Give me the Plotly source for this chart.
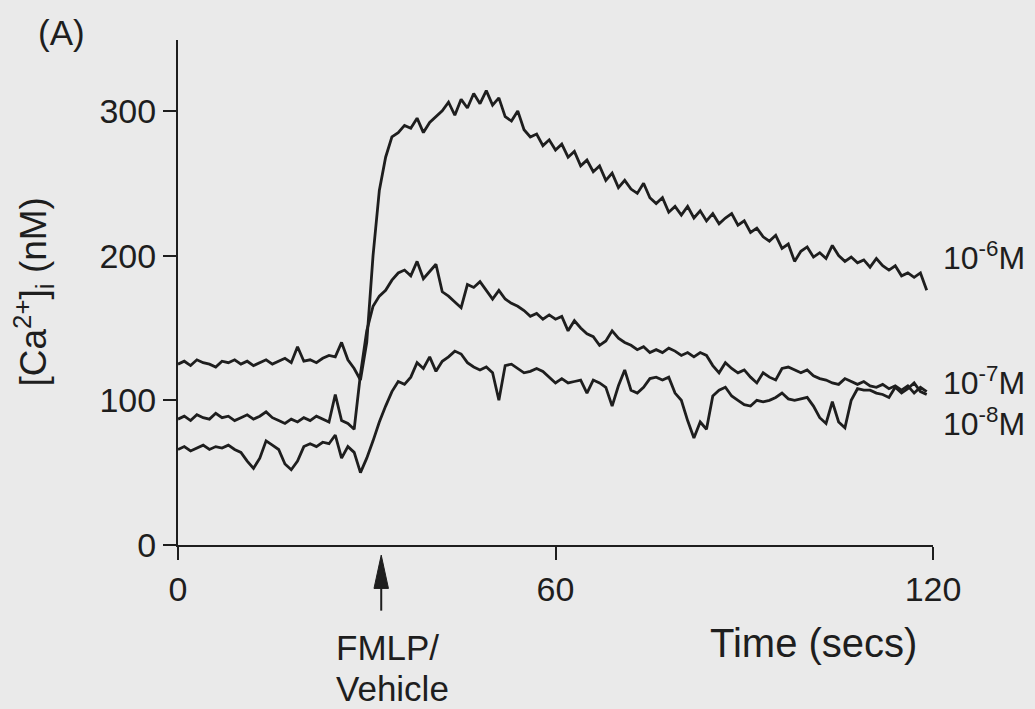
import plotly.graph_objects as go

# time grid (seconds)
time_s = list(range(0, 120))

# [Ca2+]i (nM) traces
ca_1e6 = [125, 127, 124, 128, 126, 125, 123, 127, 126, 128,
          125, 127, 124, 126, 128, 125, 127, 129, 126, 137,
          127, 128, 126, 129, 131, 130, 140, 128, 122, 114,
          140, 200, 245, 268, 282, 285, 290, 288, 295, 285,
          292, 296, 300, 306, 297, 308, 302, 312, 305, 314,
          304, 309, 296, 293, 300, 287, 282, 284, 276, 280,
          273, 277, 268, 272, 262, 266, 258, 262, 252, 257,
          247, 252, 246, 243, 250, 240, 236, 240, 230, 234,
          228, 234, 226, 231, 224, 229, 222, 226, 229, 221,
          224, 216, 219, 213, 210, 214, 205, 208, 196, 203,
          206, 199, 202, 198, 207, 200, 196, 199, 195, 197,
          192, 198, 193, 190, 193, 186, 188, 185, 188, 176]

ca_1e7 = [87, 89, 86, 90, 88, 87, 91, 88, 89, 86,
          88, 90, 87, 89, 92, 88, 86, 84, 87, 85,
          88, 86, 89, 87, 85, 104, 86, 84, 80, 118,
          148, 165, 172, 176, 183, 188, 190, 186, 196, 184,
          189, 194, 175, 172, 168, 164, 180, 178, 182, 176,
          170, 176, 170, 167, 165, 162, 158, 160, 156, 159,
          156, 158, 148, 155, 150, 146, 144, 138, 141, 148,
          143, 140, 138, 135, 137, 133, 135, 133, 136, 134,
          131, 133, 130, 133, 131, 124, 119, 126, 122, 119,
          121, 116, 112, 119, 116, 114, 122, 123, 121, 119,
          121, 117, 115, 114, 112, 111, 115, 113, 111, 113,
          110, 109, 111, 108, 110, 107, 110, 105, 109, 106]

ca_1e8 = [66, 68, 65, 67, 69, 66, 68, 67, 69, 66,
          64, 58, 53, 60, 72, 69, 66, 56, 52, 58,
          68, 70, 68, 71, 70, 76, 60, 68, 64, 50,
          60, 72, 85, 96, 106, 113, 111, 116, 126, 122,
          130, 120, 127, 130, 134, 132, 126, 123, 121, 123,
          119, 100, 124, 125, 122, 119, 120, 122, 120, 116,
          112, 115, 112, 113, 114, 105, 114, 112, 109, 96,
          110, 121, 107, 105, 109, 115, 116, 114, 116, 105,
          100, 86, 74, 85, 80, 103, 107, 109, 103, 100,
          97, 96, 100, 99, 100, 102, 105, 101, 100, 101,
          102, 96, 88, 84, 99, 85, 81, 100, 108, 107,
          107, 105, 104, 102, 109, 105, 108, 112, 106, 104]

x_ticks = [0, 60, 120]
y_ticks = [0, 100, 200, 300]
series_labels = ["10<sup>-6</sup>M", "10<sup>-7</sup>M", "10<sup>-8</sup>M"]
stim_time = 32.3

BG = "rgb(234,234,234)"
INK = "rgb(30,30,30)"
FONT = "Liberation Sans, Arial, sans-serif"

fig = go.Figure()
for ys in (ca_1e6, ca_1e7, ca_1e8):
    fig.add_trace(go.Scatter(x=time_s, y=ys, mode="lines",
                             line=dict(color=INK, width=2.8),
                             showlegend=False, hoverinfo="skip"))

fig.update_layout(
    width=1035, height=709,
    margin=dict(l=178, r=102, t=40, b=164),
    paper_bgcolor=BG, plot_bgcolor=BG,
    font=dict(family=FONT, color=INK, size=30),
    showlegend=False,
)
fig.update_xaxes(range=[0, 120], tickvals=x_ticks, ticktext=[str(v) for v in x_ticks],
                 showgrid=False, zeroline=False, showline=True, linecolor=INK, linewidth=2,
                 ticks="outside", ticklen=13, tickwidth=2, tickcolor=INK,
                 tickfont=dict(size=34, family=FONT, color=INK))
fig.update_yaxes(range=[0, 349], tickvals=y_ticks, ticktext=[str(v) for v in y_ticks],
                 showgrid=False, zeroline=False, showline=True, linecolor=INK, linewidth=2,
                 ticks="outside", ticklen=13, tickwidth=2, tickcolor=INK,
                 tickfont=dict(size=34, family=FONT, color=INK))

# series labels at the right
label_y = [200, 113, 85]
for txt, yv in zip(series_labels, label_y):
    fig.add_annotation(x=1.011, xref="paper", y=yv, yref="y", text=txt, showarrow=False,
                       xanchor="left", yanchor="middle", font=dict(size=32, family=FONT, color=INK))

# y-axis title
fig.add_annotation(x=-0.192, xref="paper", y=0.5, yref="paper",
                   text="[Ca<sup>2+</sup>]<sub>i</sub> (nM)", textangle=-90, showarrow=False,
                   xanchor="center", yanchor="middle", font=dict(size=37, family=FONT, color=INK))
# panel label
fig.add_annotation(x=-0.188, xref="paper", y=1.0, yref="paper", yshift=8,
                   text="(A)", showarrow=False, xanchor="left", yanchor="middle",
                   font=dict(size=35, family=FONT, color=INK))
# x-axis title
fig.add_annotation(x=0.842, xref="paper", y=-0.194, yref="paper",
                   text="Time (secs)", showarrow=False, xanchor="center", yanchor="middle",
                   font=dict(size=40, family=FONT, color=INK))
# stimulus label (two lines)
fig.add_annotation(x=0.206, xref="paper", y=-0.202, yref="paper",
                   text="FMLP/", showarrow=False, xanchor="left", yanchor="middle",
                   font=dict(size=35, family=FONT, color=INK))
fig.add_annotation(x=0.206, xref="paper", y=-0.285, yref="paper",
                   text="Vehicle", showarrow=False, xanchor="left", yanchor="middle",
                   font=dict(size=35, family=FONT, color=INK))

# stimulus arrow (triangle head + stem)
fig.add_shape(type="path", xref="x", yref="paper",
              path=f"M {stim_time},-0.02 L {stim_time-1.15},-0.086 L {stim_time+1.15},-0.086 Z",
              fillcolor=INK, line=dict(color=INK, width=1))
fig.add_shape(type="line", xref="x", yref="paper", x0=stim_time, x1=stim_time,
              y0=-0.08, y1=-0.13, line=dict(color=INK, width=2))

fig.write_html(
    "out.html",
    config={"displayModeBar": False},
    post_script="document.body.style.margin='0';document.body.style.overflow='hidden';"
                "document.body.style.background='rgb(234,234,234)';",
)
